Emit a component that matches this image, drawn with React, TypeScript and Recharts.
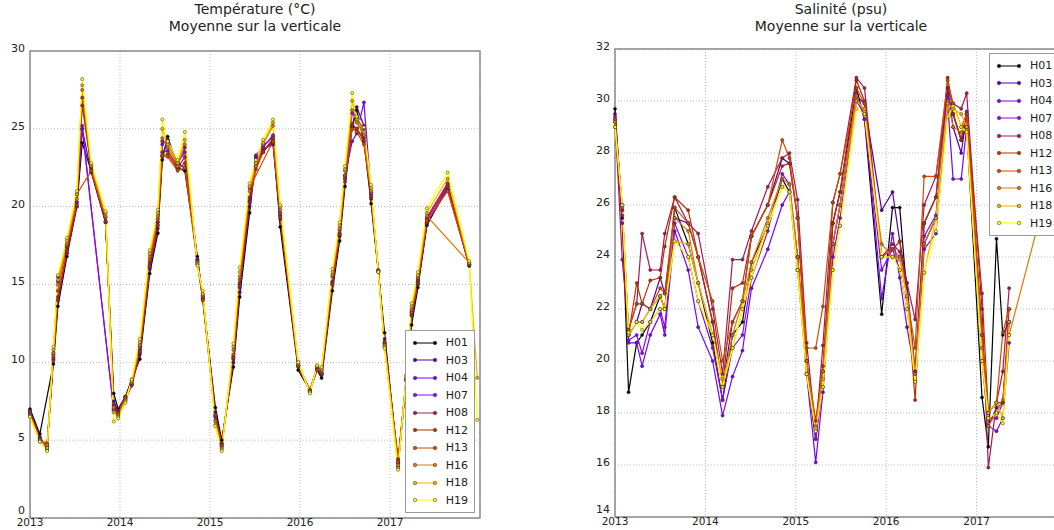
import React from 'react'
import { LineChart, Line, XAxis, YAxis, CartesianGrid, Legend, ReferenceArea } from 'recharts'

const STATIONS = ['H01', 'H03', 'H04', 'H07', 'H08', 'H12', 'H13', 'H16', 'H18', 'H19']
// gnuplot-like colormap, dark -> yellow
const COLORS = ['#000000', '#5500a4', '#7803fb', '#9309dd', '#aa1657', '#be2b00', '#d04b00', '#e17800', '#f0b300', '#ffff00']

const YEAR_TICKS = [2013, 2014, 2015, 2016, 2017]
const TEMP_TICKS = [0, 5, 10, 15, 20, 25, 30]
const SAL_TICKS = [14, 16, 18, 20, 22, 24, 26, 28, 30, 32]

// sampling dates (decimal years)
const tempDates = [
  2013.0, 2013.11, 2013.19, 2013.26, 2013.31, 2013.41, 2013.52, 2013.58, 2013.68, 2013.84,
  2013.93, 2013.98, 2014.06, 2014.13, 2014.22, 2014.33, 2014.42, 2014.47, 2014.53, 2014.64,
  2014.72, 2014.86, 2014.92, 2015.06, 2015.13, 2015.26, 2015.33, 2015.44, 2015.51, 2015.59,
  2015.7, 2015.78, 2015.98, 2016.11, 2016.19, 2016.24, 2016.36, 2016.44, 2016.5, 2016.58,
  2016.63, 2016.71, 2016.79, 2016.87, 2016.94, 2017.09, 2017.18, 2017.24, 2017.31, 2017.41,
  2017.64, 2017.88, 2017.97,
]

const tempH01 = [7.0, 5.4, null, 9.9, 13.6, 16.8, 20.0, 24.1, 22.3, 19.0, 8.0, 7.0, 7.8, 8.9, 10.2, 15.7, 18.3, 23.0, 24.5, 22.5, 22.3, 16.8, 14.0, 7.1, 5.0, 9.7, 14.2, 19.6, 23.2, 23.5, 24.3, 18.7, 9.5, 8.2, 9.5, 9.0, 14.6, 17.8, 21.3, 25.1, 26.2, 24.2, 20.2, 15.8, 11.9, 3.3, 8.8, 12.4, 14.8, 18.8, 21.3, 16.2, null]
const tempH03 = [6.9, 5.2, 4.5, 10.3, 14.0, 17.0, 20.2, 25.0, 22.2, 19.0, 7.5, 6.9, 7.8, 8.6, 10.5, 16.0, 18.6, 23.3, 24.3, 22.8, 22.5, 16.6, 14.3, 6.8, 4.8, 10.0, 14.5, 20.0, 23.1, 23.7, 24.0, 19.2, 9.8, 8.2, 9.7, 9.2, 15.0, 18.1, 21.8, 25.2, 26.4, 25.2, 20.5, 15.9, 11.5, 3.5, 8.9, 13.0, 15.0, 18.9, 21.1, 16.2, null]
const tempH04 = [6.8, 5.1, 4.4, 10.6, 15.2, 17.4, 20.3, 25.0, null, null, 7.0, 6.9, 7.7, 8.6, 10.8, 16.2, 19.0, 24.0, 24.3, 22.7, 23.8, 16.6, 14.2, 6.6, 4.6, 10.3, 14.8, 20.4, 23.3, 23.9, 24.5, 19.6, 9.8, 8.1, 9.6, 9.2, 15.1, 18.2, 22.0, 24.2, 24.7, 26.7, 20.9, 15.9, 11.2, 3.5, 8.9, 13.3, 15.1, 19.0, 21.2, 16.3, null]
const tempH07 = [6.8, 5.1, 4.6, 10.5, 15.5, 17.2, 20.3, 25.2, null, null, 6.9, 6.8, 7.7, 8.6, 10.6, 16.1, 18.8, 24.2, 24.0, 22.8, 23.5, 16.5, 14.1, 6.5, 4.7, 10.4, 15.0, 20.3, 22.8, 23.8, 24.6, 19.5, 9.8, 8.2, 9.6, 9.3, 15.2, 18.2, 22.0, 26.0, 25.6, 25.0, 20.8, 15.9, 11.3, 3.6, 8.9, 13.2, 15.3, 19.2, 21.4, 16.3, null]
const tempH08 = [6.7, 5.0, 4.7, 10.2, 14.2, 17.0, 20.0, 26.5, 22.5, 19.0, 7.3, 6.7, 7.6, 8.5, 10.6, 16.4, 19.0, 23.5, 23.6, 22.5, 23.2, 16.4, 14.1, 6.5, 4.8, 10.2, 15.1, 20.6, 22.6, 23.6, 24.1, 19.4, 9.7, 8.2, 9.6, 9.3, 15.1, 18.3, 21.6, 25.2, 25.0, 24.4, 20.6, 15.9, 11.2, 3.7, 8.9, 13.1, 15.2, 19.3, 21.5, 16.3, null]
const tempH12 = [6.8, 5.1, 4.6, 10.1, 14.0, 17.2, 20.1, 27.0, 22.4, 19.1, 7.2, 6.8, 7.8, 8.6, 10.7, 16.2, 18.8, 23.2, 23.4, 22.4, 22.8, 16.5, 14.2, 6.6, 4.7, 10.3, 14.9, 20.3, 22.4, 23.5, 24.4, 19.3, 9.8, 8.2, 9.6, 9.3, 15.0, 18.2, 21.8, 25.3, 25.0, 24.2, 20.7, 15.9, 11.3, 3.8, 8.9, 13.0, 15.1, 19.0, 21.3, 16.3, null]
const tempH13 = [6.6, 5.0, 4.8, 10.4, 14.6, 17.5, 20.8, null, 22.3, 19.3, 7.0, 6.7, 7.7, 8.7, 11.0, 16.6, 19.2, 23.3, 23.2, 22.3, 22.5, 16.3, 14.0, 6.3, 4.6, 10.5, 15.3, 21.2, null, null, 24.2, 19.6, 9.8, 8.2, 9.5, 9.4, 15.5, 18.5, 22.0, 25.0, 24.8, 24.0, 20.9, 15.9, 11.0, 3.6, 8.9, 13.2, 15.4, 19.1, 21.0, 16.3, null]
const tempH16 = [6.6, 5.0, 4.7, 10.6, 15.0, 17.6, 20.5, 27.5, 22.6, 19.4, 7.1, 6.6, 7.6, 8.7, 11.1, 16.8, 19.4, 24.4, 23.8, 22.6, 24.0, 16.4, 14.3, 6.2, 4.5, 10.8, 15.5, 21.0, 22.6, 24.0, 25.2, 19.8, 9.9, 8.1, 9.7, 9.5, 15.6, 18.6, 22.3, 26.2, 25.4, 24.6, 21.0, 15.9, 11.1, 3.4, 9.0, 13.4, 15.5, 19.4, null, 16.4, null]
const tempH18 = [6.5, 4.9, 4.5, 10.8, 15.3, 17.8, 20.8, 27.8, 22.7, 19.6, 6.8, 6.5, 7.5, 8.8, 11.3, 17.0, 19.6, 25.0, 24.0, 22.8, 24.3, 16.3, 14.4, 6.0, 4.4, 11.0, 15.8, 21.3, 22.8, 24.1, 25.4, 20.0, 10.0, 8.1, 9.8, 9.6, 15.8, 18.8, 22.4, 26.8, 25.6, 24.8, 21.2, 15.8, 11.0, 3.2, 9.1, 13.6, 15.6, 19.6, 21.8, 16.4, 9.0]
const tempH19 = [6.5, 4.9, 4.3, 11.0, 15.6, 18.0, 21.0, 28.2, 22.8, 19.7, 6.2, 6.4, 7.4, 8.9, 11.5, 17.2, 19.8, 25.6, 24.2, 23.0, 24.8, 16.2, 14.6, 5.9, 4.3, 11.2, 16.1, 21.5, 23.0, 24.3, 25.6, 20.1, 10.0, 8.0, 9.8, 9.7, 16.0, 19.0, 22.6, 27.3, 25.8, 25.1, 21.4, 15.8, 10.9, 3.1, 9.2, 13.8, 15.8, 19.9, 22.2, 16.5, 6.3]

const salDates = [
  2013.0, 2013.08, 2013.15, 2013.24, 2013.3, 2013.39, 2013.5, 2013.55, 2013.66, 2013.81,
  2013.92, 2014.08, 2014.19, 2014.3, 2014.41, 2014.51, 2014.69, 2014.85, 2014.93, 2015.02,
  2015.12, 2015.22, 2015.3, 2015.41, 2015.49, 2015.67, 2015.76, 2015.95, 2016.07, 2016.15,
  2016.23, 2016.32, 2016.42, 2016.55, 2016.68, 2016.74, 2016.83, 2016.89, 2017.06, 2017.13,
  2017.22, 2017.29, 2017.36, 2017.85,
]

const salH01 = [29.7, 25.5, 18.8, 20.7, 21.0, 21.5, 22.5, 22.0, 25.9, 24.5, 23.0, 20.7, 18.5, 21.0, 21.5, 23.8, 25.2, 27.0, 26.5, 24.0, 19.5, 17.0, 19.6, 25.3, 26.5, 30.5, 29.3, 21.8, 25.9, 25.9, 22.5, 19.2, 24.5, 25.5, 30.2, 29.5, 28.5, 29.0, 18.6, 16.7, 24.7, 21.0, 21.5, null]
const salH03 = [29.5, 25.8, 21.0, 21.5, 22.2, 22.0, 23.2, 22.6, 25.5, 25.3, 24.0, 21.5, 19.0, 21.5, 22.3, 24.8, 26.0, 27.8, 27.6, 25.5, 20.0, 17.3, 19.6, 24.5, 26.0, 30.2, 29.9, 25.8, 26.5, 24.6, 23.0, 19.6, 25.3, 26.3, 30.5, 29.0, 28.0, 29.5, 21.0, 17.5, 18.2, 18.4, 21.5, null]
const salH04 = [29.0, 25.3, 20.7, 20.7, 19.8, 21.0, 21.8, 21.0, 25.0, 23.5, 21.3, 20.0, 17.9, 19.4, 20.4, 22.8, 24.3, 26.0, 26.5, 23.5, 19.5, 16.1, 18.8, 24.0, 25.5, 30.0, 29.5, 22.4, 24.9, 23.2, 21.3, 19.5, 24.3, 24.9, 29.9, 27.0, 27.0, 29.0, 20.0, 17.5, 17.3, 17.8, 20.7, null]
const salH07 = [29.2, 25.6, 20.8, 21.0, 20.3, 21.5, 22.0, 21.3, 25.3, 24.0, 22.3, 20.5, 18.5, 20.5, 21.0, 23.2, 25.0, 27.2, 26.8, 24.0, 20.0, 17.0, 19.0, 24.5, 26.0, 30.3, 29.3, 23.5, 24.3, 23.5, 22.0, 19.6, 24.8, 25.6, 30.2, 29.5, 28.5, 29.6, 21.0, 17.8, 17.8, 18.4, 21.5, null]
const salH08 = [29.4, 23.9, 21.2, 22.2, 24.9, 23.5, 23.5, 24.9, 26.3, 25.3, 24.9, 22.0, 19.5, 23.9, 23.9, 25.0, 26.7, 27.8, 28.0, 26.2, 20.7, 17.3, 20.6, 26.1, 27.2, 30.9, 30.5, 24.0, 24.5, 24.2, 23.0, 21.6, 26.0, 27.1, 30.5, 29.9, 29.7, 30.3, 22.0, 15.9, 18.4, 19.6, 22.8, null]
const salH12 = [29.3, 25.8, 21.0, 23.0, 22.2, 23.1, 23.2, 24.4, 26.3, 25.8, 24.0, 21.5, 19.0, 22.8, 23.0, 24.8, 26.0, 27.5, 27.6, 25.5, 20.0, 17.7, 19.8, 25.3, 26.5, 30.8, 30.0, 24.0, 24.3, 24.6, 22.5, 18.5, 25.3, 26.3, 30.9, 29.5, 28.5, 29.5, 22.6, 18.0, 18.4, 18.4, 22.0, null]
const salH13 = [29.3, 25.9, 21.2, 22.2, 22.2, 22.0, 22.8, 22.6, 25.9, 25.3, 24.0, 22.3, 20.0, 21.5, 22.3, 24.8, 26.0, 28.5, 27.8, 25.5, 20.5, 20.5, 22.1, 26.1, 27.2, 30.5, 29.9, 24.0, 24.3, 24.0, 22.5, 20.5, 27.1, 27.1, 30.8, 29.9, 29.0, 29.5, 21.0, 18.0, 18.4, 21.1, 22.0, null]
const salH16 = [29.2, 26.0, 21.0, 21.5, 21.5, 22.0, 22.5, 22.0, 25.5, 25.0, 23.0, 21.0, 19.0, 21.0, 22.3, 23.8, 25.5, 27.0, 26.8, 24.0, 20.0, 17.5, 19.6, 24.5, 26.0, 30.2, 29.5, 24.5, 24.0, 24.0, 22.5, 19.5, 24.5, 25.5, 30.0, 29.0, 28.8, 29.0, 20.5, 17.5, 18.0, 18.5, 21.0, 27.5]
const salH18 = [29.0, 26.0, 21.0, 21.5, 21.5, 22.0, 22.5, 22.0, 24.6, 24.5, 23.0, 21.0, 19.3, 20.5, 22.0, 23.5, 25.3, 26.7, 26.5, 23.5, 19.5, 17.3, 19.3, 23.5, 25.2, 30.0, 29.7, 24.0, 24.0, 23.9, 22.5, 19.2, 23.4, 25.5, 29.9, 29.7, 29.5, 29.0, 20.0, 18.0, 18.4, 17.8, 21.5, null]
const salH19 = [29.0, 26.0, 21.1, 21.5, 21.2, 21.5, 22.0, 22.0, 24.6, 24.0, 22.3, 21.0, 19.0, 20.5, 22.0, 23.2, 25.2, 26.7, 26.5, 23.5, 19.5, 17.3, 19.0, 23.5, 25.2, 29.7, 29.5, 24.0, 24.0, 23.5, 22.0, 19.2, 23.4, 25.0, 29.4, 29.8, 29.0, 28.8, 20.0, 17.8, 18.0, 17.6, 21.0, null]

const TEMP_SERIES = [tempH01, tempH03, tempH04, tempH07, tempH08, tempH12, tempH13, tempH16, tempH18, tempH19]
const SAL_SERIES = [salH01, salH03, salH04, salH07, salH08, salH12, salH13, salH16, salH18, salH19]

const FONT = '"DejaVu Sans", sans-serif'

function buildRows(dates: number[], series: (number | null)[][]) {
  return dates.map((t, i) => {
    const row: Record<string, number | null> = { t }
    STATIONS.forEach((s, k) => {
      row[s] = series[k][i]
    })
    return row
  })
}

function StationLegend() {
  return (
    <div
      style={{
        background: '#fff',
        border: '1px solid #999',
        padding: '3px 6px 3px 6px',
        boxSizing: 'border-box',
        fontFamily: FONT,
        fontSize: 11,
        color: '#222',
      }}
    >
      {STATIONS.map((s, i) => (
        <div key={s} style={{ display: 'flex', alignItems: 'center', height: 17.5 }}>
          <svg width={26} height={10} style={{ marginRight: 8 }}>
            <line x1={3} y1={5} x2={23} y2={5} stroke={COLORS[i]} strokeWidth={1} />
            <circle cx={3} cy={5} r={1.8} fill={COLORS[i]} stroke="#333" strokeWidth={0.5} />
            <circle cx={23} cy={5} r={1.8} fill={COLORS[i]} stroke="#333" strokeWidth={0.5} />
          </svg>
          <span>{s}</span>
        </div>
      ))}
    </div>
  )
}

// y tick: the bottom label sits a little higher so it clears the year labels
function makeYTick(minValue: number) {
  return function YTick(props: any) {
    const { x, y, payload } = props
    const lift = payload.value === minValue ? -8 : -3
    return (
      <text x={x} y={y + lift} dy="0.35em" textAnchor="end" fontSize={11} fill="#222" fontFamily={FONT}>
        {payload.value}
      </text>
    )
  }
}

type PanelProps = {
  left: number
  width: number
  title: string
  rows: Record<string, number | null>[]
  yDomain: [number, number]
  yTicks: number[]
  marginTop: number
  yAxisWidth: number
  xAxisHeight: number
  legendPos: { left: number; top: number; width: number }
}

function Panel({ left, width, title, rows, yDomain, yTicks, marginTop, yAxisWidth, xAxisHeight, legendPos }: PanelProps) {
  const plotLeft = yAxisWidth
  const plotWidth = width - yAxisWidth - 10
  return (
    <div style={{ position: 'absolute', left, top: 0, width, height: 530 }}>
      <div
        style={{
          position: 'absolute',
          left: plotLeft,
          width: plotWidth,
          top: 1,
          textAlign: 'center',
          fontFamily: FONT,
          fontSize: 14,
          lineHeight: '17px',
          color: '#222',
        }}
      >
        {title}
        <br />
        Moyenne sur la verticale
      </div>
      <LineChart width={width} height={530} data={rows} margin={{ top: marginTop, right: 10, bottom: 0, left: 0 }}>
        <CartesianGrid stroke="#bbb" strokeDasharray="1 2" />
        <XAxis
          dataKey="t"
          type="number"
          domain={[2013, 2018]}
          ticks={YEAR_TICKS}
          interval={0}
          height={xAxisHeight}
          tickSize={0}
          tickMargin={1}
          axisLine={false}
          tick={{ fontSize: 10.5, fill: '#222', fontFamily: FONT }}
          tickFormatter={(v: number) => String(Math.round(v))}
        />
        <YAxis
          type="number"
          domain={yDomain}
          ticks={yTicks}
          interval={0}
          width={yAxisWidth}
          tickSize={0}
          tickMargin={5}
          axisLine={false}
          tick={makeYTick(yDomain[0])}
        />
        <ReferenceArea
          x1={2013}
          x2={2018}
          y1={yDomain[0]}
          y2={yDomain[1]}
          fill="#fff"
          fillOpacity={0}
          stroke="#8a8a8a"
          strokeWidth={1.5}
        />
        {STATIONS.map((s, i) => (
          <Line
            key={s}
            dataKey={s}
            stroke={COLORS[i]}
            strokeWidth={1.2}
            connectNulls
            isAnimationActive={false}
            dot={{ r: 1.6, fill: COLORS[i], stroke: '#333', strokeWidth: 0.5 }}
          />
        ))}
        <Legend
          layout="vertical"
          align="center"
          verticalAlign="middle"
          content={() => <StationLegend />}
          wrapperStyle={{ position: 'absolute', left: legendPos.left, top: legendPos.top, width: legendPos.width }}
        />
      </LineChart>
    </div>
  )
}

export default function App() {
  const tempRows = buildRows(tempDates, TEMP_SERIES)
  const salRows = buildRows(salDates, SAL_SERIES)
  return (
    <div
      style={{
        position: 'absolute',
        left: 0,
        top: 0,
        width: 1054,
        height: 530,
        overflow: 'hidden',
        background: '#fff',
      }}
    >
      <Panel
        left={0}
        width={490}
        title="Température (°C)"
        rows={tempRows}
        yDomain={[0, 30]}
        yTicks={TEMP_TICKS}
        marginTop={51}
        yAxisWidth={30}
        xAxisHeight={12}
        legendPos={{ left: 405, top: 330, width: 70 }}
      />
      <Panel
        left={560}
        width={517}
        title="Salinité (psu)"
        rows={salRows}
        yDomain={[14, 32]}
        yTicks={SAL_TICKS}
        marginTop={49}
        yAxisWidth={55}
        xAxisHeight={13}
        legendPos={{ left: 429, top: 53, width: 78 }}
      />
    </div>
  )
}
